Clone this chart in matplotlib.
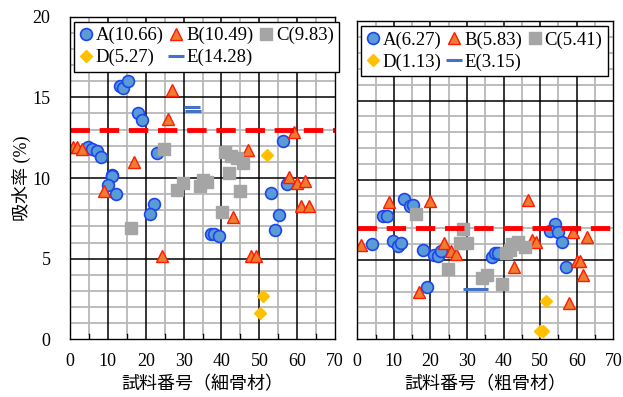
import numpy as np
import matplotlib.pyplot as plt
from matplotlib.ticker import MultipleLocator

plt.rcParams['font.family'] = ['Liberation Serif', 'Noto Sans CJK JP']
plt.rcParams['font.size'] = 13

# ---- fine aggregate (細骨材) ----
fA_x = [4.8, 5.7, 7.1, 8.1, 11.0, 13.2, 14.1, 15.2, 18.0, 19.1, 22.9, 56.2,
        11.2, 10.1, 12.2, 22.2, 21.1, 37.2, 38.0, 39.3, 53.1, 57.2, 55.2, 54.1]
fA_y = [11.95, 11.8, 11.7, 11.3, 10.2, 15.7, 15.6, 16.0, 14.06, 13.6, 11.57, 12.3,
        10.1, 9.56, 9.0, 8.37, 7.76, 6.5, 6.55, 6.4, 9.1, 9.6, 7.7, 6.8]
fB_x = [0.9, 1.9, 3.1, 26.9, 25.8, 16.9, 47.1, 59.2, 57.9, 60.0, 62.1, 60.9,
        63.2, 9.0, 24.2, 43.0, 47.7, 49.0]
fB_y = [11.95, 11.9, 11.8, 15.47, 13.66, 10.97, 11.74, 12.83, 10.08, 9.7, 9.84, 8.26,
        8.26, 9.2, 5.16, 7.56, 5.18, 5.18]
fC_x = [24.9, 40.9, 42.4, 44.2, 45.8, 42.1, 29.9, 28.3, 34.2, 36.1, 35.0, 44.9, 40.1, 16.0]
fC_y = [11.8, 11.63, 11.39, 11.22, 10.9, 10.3, 9.67, 9.25, 9.5, 9.77, 9.88, 9.2, 7.9, 6.93]
fD_x = [52.0, 51.1, 50.2]
fD_y = [11.43, 2.67, 1.64]
fE_x = [32.1, 32.4]
fE_y = [14.43, 14.15]
f_means = [10.66, 10.49, 9.83, 5.27, 14.28]
f_limit = 13.0

# ---- coarse aggregate (粗骨材) ----
cA_x = [3.9, 7.1, 8.0, 12.9, 14.4, 15.3, 9.8, 11.2, 11.9, 18.0, 21.1, 22.0, 22.8,
        19.0, 36.8, 37.7, 38.6, 54.1, 52.7, 55.0, 56.1, 57.1]
cA_y = [5.98, 7.74, 7.74, 8.79, 8.37, 8.43, 6.19, 5.86, 6.06, 5.6, 5.29, 5.23, 5.56,
        3.3, 5.19, 5.4, 5.44, 7.24, 6.82, 6.76, 6.13, 4.52]
cB_x = [0.9, 8.7, 19.9, 23.8, 25.6, 26.9, 16.9, 46.7, 47.7, 48.8, 42.8, 58.9, 62.7,
        60.2, 60.8, 61.7, 57.8]
cB_y = [5.92, 8.64, 8.7, 6.06, 5.56, 5.35, 2.95, 8.74, 6.23, 6.13, 4.56, 6.76, 6.44,
        4.93, 4.93, 4.04, 2.26]
cC_x = [16.0, 29.0, 28.1, 30.1, 24.9, 34.0, 35.4, 39.7, 40.8, 42.2, 44.0, 45.8, 41.7]
cC_y = [7.85, 6.9, 6.03, 6.06, 4.39, 3.83, 4.04, 3.45, 5.4, 5.98, 6.13, 5.78, 5.6]
cD_x = [51.7, 49.9, 50.7]
cD_y = [2.4, 0.5, 0.5]
cE_x = [31.0, 33.5]
cE_y = [3.15, 3.15]
c_means = [6.27, 5.83, 5.41, 1.13, 3.15]
c_limit = 6.97

names = ['A', 'B', 'C', 'D', 'E']


def draw_grid(ax):
    # gray lines every 5 (x) / 1 (y), black every 10 (x) / 5 (y)
    for x in range(5, 70, 5):
        if x % 10:
            ax.axvline(x, ymin=0.015, color='#B8B8B8', lw=1.3, zorder=1)
            ax.axvline(x, ymax=0.015, color='black', lw=1.0, zorder=1.1)
        else:
            ax.axvline(x, color='black', lw=1.1, zorder=1.2)
    for y in range(1, 20):
        if y % 5:
            ax.axhline(y, color='#B8B8B8', lw=1.3, zorder=1)
        else:
            ax.axhline(y, color='black', lw=1.1, zorder=1.2)


def draw_panel(ax, data, means, limit, xlabel):
    (ax_, ay_), (bx, by), (cx, cy), (dx, dy), (ex, ey) = data
    lab = [f'{n}({m:.2f})' for n, m in zip(names, means)]

    draw_grid(ax)

    hA, = ax.plot(ax_, ay_, 'o', ms=8.5, mfc='#5B9BD5', mec='#1A45F0', mew=1.2,
                  label=lab[0], zorder=4)
    hB, = ax.plot(bx, by, '^', ms=9, mfc='#ED7D31', mec='#FF1A00', mew=1.0,
                  label=lab[1], zorder=4)
    hC, = ax.plot(cx, cy, 's', ms=8, mfc='#A5A5A5', mec='#A5A5A5',
                  label=lab[2], zorder=4)
    hD, = ax.plot(dx, dy, 'D', ms=6.5, mfc='#FFC000', mec='#FFC000',
                  label=lab[3], zorder=4)
    hE, = ax.plot(ex, ey, '_', ms=11, mew=2.2, color='#4472C4', ls='none',
                  label=lab[4], zorder=4)

    ax.axhline(limit, color='#FF0000', lw=3.5, dashes=(4, 2), zorder=5)

    ax.set_xlim(0, 70)
    ax.set_ylim(0, 20)
    ax.xaxis.set_major_locator(MultipleLocator(10))
    ax.yaxis.set_major_locator(MultipleLocator(5))
    ax.tick_params(length=0)
    ax.tick_params(axis='x', pad=10)
    for s in ax.spines.values():
        s.set_linewidth(1.0)
        s.set_color('black')
        s.set_zorder(6)

    ax.set_xlabel(xlabel, labelpad=4)

    # row-wise legend: A B C / D E
    hs = [hA, hD, hB, hE, hC]
    leg = ax.legend(hs, [h.get_label() for h in hs], ncol=3, loc='upper left',
                    bbox_to_anchor=(0.015, 0.985), borderaxespad=0,
                    fancybox=False, framealpha=1, edgecolor='black',
                    handlelength=0.65, handletextpad=0.2, columnspacing=0.35,
                    borderpad=0.3, labelspacing=0.25, fontsize=13.5)
    leg.get_frame().set_linewidth(1.0)
    leg.set_zorder(10)


fig = plt.figure(figsize=(6.23, 3.97), dpi=100)
ax1 = fig.add_axes([0.1124, 0.1453, 0.4254, 0.8126])
ax2 = fig.add_axes([0.5735, 0.1453, 0.4109, 0.8018])

draw_panel(ax1, [(fA_x, fA_y), (fB_x, fB_y), (fC_x, fC_y), (fD_x, fD_y), (fE_x, fE_y)],
           f_means, f_limit, '試料番号（細骨材）')
draw_panel(ax2, [(cA_x, cA_y), (cB_x, cB_y), (cC_x, cC_y), (cD_x, cD_y), (cE_x, cE_y)],
           c_means, c_limit, '試料番号（粗骨材）')

ax1.tick_params(axis='y', pad=14)
ax1.set_ylabel('吸水率 (%)', labelpad=1)
ax2.set_yticklabels([])

fig.savefig('out.png', dpi=100)
